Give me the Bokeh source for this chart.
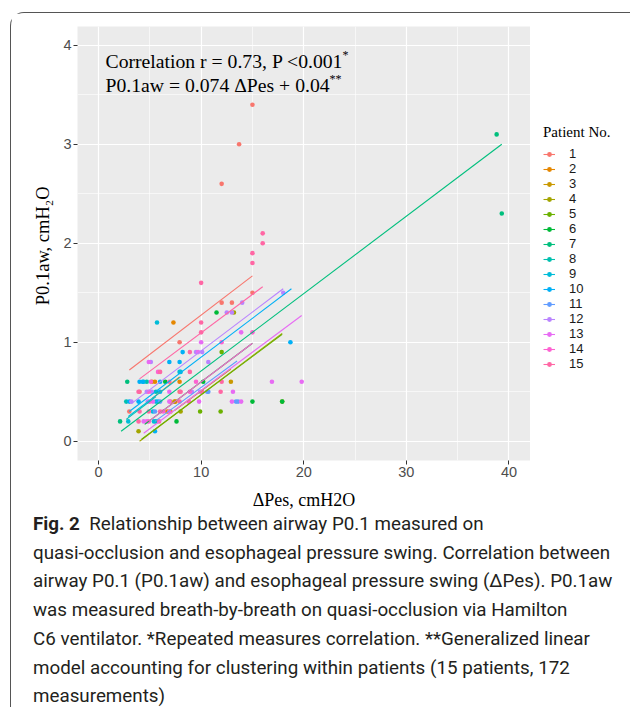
import numpy as np
from bokeh.plotting import figure
from bokeh.layouts import column, row
from bokeh.models import (Label, Legend, LegendItem, SingleIntervalTicker, Range1d,
                          ColumnDataSource, Div)
from bokeh.embed import file_html
from bokeh.resources import INLINE

# ---------------- data ----------------
patient_ids = list(range(1, 16))
patient_colors = ["#F8766D", "#E58700", "#C99800", "#A3A500", "#6BB100", "#00BA38", "#00BF7D",
                  "#00C0AF", "#00BCD8", "#00B0F6", "#619CFF", "#B983FF", "#E76BF3", "#FD61D1", "#FF67A4"]

# measurements: patient number, ΔPes (cmH2O), P0.1aw (cmH2O)
pt_patient = (
    [1] * 11 + [2] * 7 + [3] * 2 + [4] * 4 + [5] * 3 + [6] * 6 + [7] * 4 + [8] * 4 + [9] * 8 +
    [10] * 12 + [11] * 6 + [12] * 14 + [13] * 15 + [14] * 12 + [15] * 22
)
pt_pes = [
    3.0, 4.0, 7.0, 7.9, 7.9, 12.0, 13.0, 15.0, 12.0, 13.7, 15.0,           # 1
    5.2, 5.5, 6.7, 7.0, 7.3, 7.5, 7.9,                                     # 2
    7.4, 12.9,                                                             # 3
    3.9, 13.2, 17.9, 8.0,                                                  # 4
    9.9, 11.9, 12.0,                                                       # 5
    11.5, 10.2, 15.0, 17.9, 7.6, 6.5,                                      # 6
    2.1, 2.8, 38.8, 39.3,                                                  # 7
    2.7, 5.6, 5.6, 4.7,                                                    # 8
    5.7, 2.9, 5.3, 5.4, 5.6, 7.9, 8.0, 4.4,                                # 9
    18.7, 8.2, 6.9, 7.9, 6.0, 3.9, 5.8, 6.0, 5.5, 4.0, 3.0, 4.3,           # 10
    5.5, 6.0, 10.6, 13.4, 13.6, 10.7,                                      # 11
    14.0, 12.5, 13.0, 9.5, 10.1, 5.1, 10.7, 4.7, 5.2, 9.1, 9.9, 3.2, 4.8, 18.0,   # 12
    13.9, 10.0, 9.7, 4.9, 16.9, 19.8, 6.9, 13.1, 5.3, 6.9, 9.8, 13.0, 13.9, 4.4, 4.7,  # 13
    15.0, 12.0, 5.8, 5.1, 9.5, 4.9, 8.9, 5.0, 8.8, 6.3, 6.9, 4.9,          # 14
    16.0, 16.0, 15.0, 15.0, 10.0, 10.0, 10.0, 8.9, 6.0, 8.9, 6.9, 12.0, 3.9, 8.0, 10.1, 11.9,
    7.9, 4.0, 4.9, 6.0, 3.9, 5.9,                                          # 15
]
pt_p01 = [
    0.3, 0.5, 0.4, 0.5, 1.0, 1.4, 1.4, 1.5, 2.6, 3.0, 3.4,                 # 1
    0.6, 0.6, 0.3, 0.3, 1.2, 0.4, 0.6,                                     # 2
    0.4, 0.6,                                                              # 3
    0.1, 1.3, 0.4, 0.3,                                                    # 4
    0.3, 0.3, 0.9,                                                         # 5
    1.3, 0.6, 0.4, 0.4, 0.2, 0.6,                                          # 6
    0.2, 0.6, 3.1, 2.3,                                                    # 7
    0.4, 0.5, 0.2, 0.6,                                                    # 8
    1.2, 0.2, 0.3, 0.2, 0.4, 0.7, 0.7, 0.6,                                # 9
    1.0, 0.9, 0.8, 0.8, 0.6, 0.4, 0.4, 0.5, 0.1, 0.6, 0.4, 0.6,            # 10
    0.3, 0.4, 0.5, 0.4, 0.4, 0.5,                                          # 11
    1.4, 1.3, 1.3, 0.9, 0.9, 0.8, 0.8, 0.5, 0.5, 0.5, 0.5, 0.4, 0.4, 1.5,  # 12
    1.1, 1.0, 0.9, 0.8, 0.6, 0.6, 0.5, 0.5, 0.4, 0.4, 0.4, 0.4, 0.4, 0.2, 0.2,  # 13
    1.1, 1.0, 0.7, 0.6, 0.6, 0.5, 0.5, 0.4, 0.4, 0.3, 0.3, 0.2,            # 14
    2.1, 2.0, 1.9, 1.8, 1.6, 1.2, 1.1, 0.9, 0.7, 0.7, 0.6, 0.6, 0.5, 0.5, 0.5, 0.5,
    0.4, 0.3, 0.3, 0.3, 0.2, 0.2,                                          # 15
]

# repeated-measures fitted lines per patient (start / end)
line_x0 = [3.0, 5.2, 7.4, 4.0, 4.2, 4.5, 2.2, 2.7, 2.9, 3.0, 5.5, 3.2, 4.4, 4.9, 4.0]
line_x1 = [15.0, 7.9, 12.9, 17.9, 17.9, 15.0, 39.3, 5.6, 8.0, 18.8, 13.5, 18.0, 19.8, 15.0, 16.0]
line_y0 = [0.72, 0.43, 0.31, 0.00, 0.02, 0.17, 0.10, 0.22, 0.25, 0.30, 0.20, 0.38, 0.08, 0.20, 0.63]
line_y1 = [1.67, 0.65, 0.73, 1.09, 1.08, 0.99, 3.00, 0.45, 0.65, 1.54, 0.81, 1.54, 1.27, 0.99, 1.56]

caption_lines = [
    "<b>Fig. 2</b>&nbsp; Relationship between airway P0.1 measured on",
    "quasi-occlusion and esophageal pressure swing. Correlation between",
    "airway P0.1 (P0.1aw) and esophageal pressure swing (\u0394Pes). P0.1aw",
    "was measured breath-by-breath on quasi-occlusion via Hamilton",
    "C6 ventilator. *Repeated measures correlation. **Generalized linear",
    "model accounting for clustering within patients (15 patients, 172",
    "measurements)",
]

# ---------------- layout (pixels) ----------------
BOX_L, BOX_T, BORDER = 10, 12, 1
FL, FT, FW, FH = 66, 13, 453, 434
W = FL + FW          # main figure width (frame reaches its right edge)
FB = 54              # room below the frame for tick labels and axis title
H = FT + FH + FB
LEG_W = 618 - W
ORG_X, ORG_Y = BOX_L + BORDER, BOX_T + BORDER   # page position of canvas
FRAME_BOTTOM_PAGE = ORG_Y + FT + FH


def sx(px):  # page x -> frame-relative screen x
    return px - ORG_X - FL


def sy(py):  # page y -> frame-relative screen y (upwards from frame bottom)
    return FRAME_BOTTOM_PAGE - py


p = figure(width=W, height=H, output_backend="svg", toolbar_location=None,
           min_border_left=FL, min_border_right=0, min_border_top=FT,
           min_border_bottom=FB,
           x_range=Range1d(-2.05, 42.1), y_range=Range1d(-0.195, 4.19))
p.background_fill_color = "#EBEBEB"
p.border_fill_color = "white"
p.outline_line_color = None

for ax in (p.xaxis[0], p.yaxis[0]):
    ax.axis_line_color = None
    ax.major_tick_line_color = "#333333"
    ax.major_tick_out = 4
    ax.major_tick_in = 0
    ax.minor_tick_line_color = None
    ax.major_label_text_font = "Liberation Sans"
    ax.major_label_text_font_size = "14.5px"
    ax.major_label_text_color = "#4D4D4D"
    ax.axis_label_text_font = "Liberation Serif"
    ax.axis_label_text_font_style = "normal"
    ax.axis_label_text_color = "black"
p.xaxis[0].ticker = SingleIntervalTicker(interval=10, num_minor_ticks=2)
p.yaxis[0].ticker = SingleIntervalTicker(interval=1, num_minor_ticks=2)
p.xaxis[0].major_label_standoff = 2
p.yaxis[0].major_label_standoff = 2
p.xaxis[0].axis_label = "\u0394Pes, cmH2O"
p.xaxis[0].axis_label_text_font_size = "18px"
p.xaxis[0].axis_label_standoff = 10
p.yaxis[0].axis_label = "P0.1aw,  cmH\u2082O"
p.yaxis[0].axis_label_text_font_size = "18.5px"
p.yaxis[0].axis_label_standoff = 7

for g in (p.xgrid[0], p.ygrid[0]):
    g.grid_line_color = "white"
    g.grid_line_width = 1.2
    g.minor_grid_line_color = "white"
    g.minor_grid_line_width = 0.6

pt_patient_arr = np.array(pt_patient)
pes_arr = np.array(pt_pes)
p01_arr = np.array(pt_p01)

point_src = {}
line_src = {}
for i, pid in enumerate(patient_ids):
    m = pt_patient_arr == pid
    point_src[pid] = ColumnDataSource(dict(x=pes_arr[m], y=p01_arr[m]))
    line_src[pid] = ColumnDataSource(dict(x=[line_x0[i], line_x1[i]], y=[line_y0[i], line_y1[i]]))

for pid, col in zip(patient_ids, patient_colors):
    p.scatter("x", "y", source=point_src[pid], size=4.6, color=col, line_width=0)
for pid, col in zip(patient_ids, patient_colors):
    p.line("x", "y", source=line_src[pid], color=col, line_width=1.1)


def lab(text, px, py, size, font="Liberation Serif"):
    p.add_layout(Label(text=text, x=sx(px), y=sy(py), x_units="screen", y_units="screen",
                       text_font=font, text_font_size=size, text_align="left",
                       text_baseline="middle", text_color="black"))


lab("Correlation r = 0.73, P <0.001", 105, 60, "19.7px")
lab("*", 342, 54, "12px")
lab("P0.1aw = 0.074 \u0394Pes + 0.04", 105, 84, "19.7px")
lab("**", 329, 78, "12px")

# ---------------- legend panel (separate canvas to the right of the plot) ----------------
# the same sources are used, but this canvas' ranges show none of the marks:
# only the legend keys are visible.
pl = figure(width=LEG_W, height=H, output_backend="svg", toolbar_location=None,
            min_border=0, x_range=Range1d(1000, 1001), y_range=Range1d(1000, 1001))
pl.axis.visible = False
pl.grid.visible = False
pl.outline_line_color = None
pl.background_fill_color = "white"
pl.border_fill_color = "white"

leg_items = []
for pid, col in zip(patient_ids, patient_colors):
    lr = pl.line("x", "y", source=line_src[pid], color=col, line_width=1.1)
    sr = pl.scatter("x", "y", source=point_src[pid], size=4.6, color=col, line_width=0)
    leg_items.append(LegendItem(label=str(pid), renderers=[lr, sr]))

LEG_LEFT_PAGE = 543
LEG_BOTTOM_PAGE = 371
legend = Legend(items=leg_items,
                location=(LEG_LEFT_PAGE - (ORG_X + W), FRAME_BOTTOM_PAGE - LEG_BOTTOM_PAGE),
                orientation="vertical",
                title="Patient No.", title_text_font="Liberation Serif",
                title_text_font_size="15px", title_text_font_style="normal",
                title_text_color="black", title_standoff=5,
                glyph_width=12, glyph_height=14, label_height=15, label_width=10,
                spacing=0, padding=0, margin=0, label_standoff=14,
                background_fill_alpha=0, border_line_color=None,
                label_text_font="Liberation Sans", label_text_font_size="13px",
                label_text_color="#1A1A1A")
pl.add_layout(legend)

caption_h = int(707 - ORG_Y - H - 1)
caption = Div(
    text='<div style="position: relative; top: -9px;">' + "<br>".join(caption_lines) + "</div>",
    width=618, height=caption_h,
    styles={"font-family": "Roboto", "font-size": "18.8px", "line-height": "28.7px",
            "color": "#231F20", "white-space": "nowrap", "padding-left": "17px"},
)

layout = column(row(p, pl, spacing=0), caption, margin=(BOX_T, 0, 0, BOX_L), spacing=0,
                styles={"border-left": "1.5px solid #555555", "border-top": "1.5px solid #555555",
                        "border-top-left-radius": "14px"})

open("out.html", "w").write(file_html(layout, INLINE))
